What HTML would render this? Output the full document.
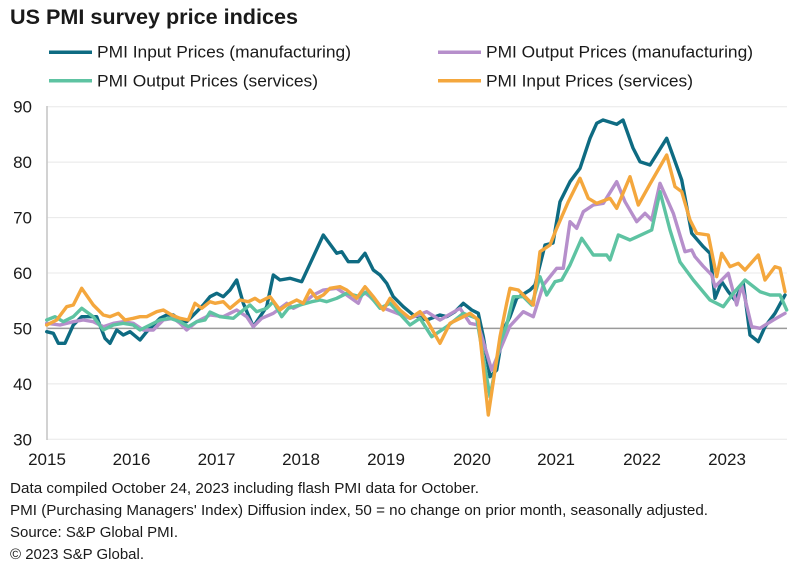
<!DOCTYPE html>
<html>
<head>
<meta charset="utf-8">
<style>
html,body{margin:0;padding:0;background:#fff;}
svg{display:block;}
text{font-family:"Liberation Sans",Arial,sans-serif;fill:#1a1a1a;}
</style>
</head>
<body>
<svg width="793" height="572" viewBox="0 0 793 572" xmlns="http://www.w3.org/2000/svg">
<rect width="793" height="572" fill="#fff"/>
<text x="10" y="24" font-size="21" font-weight="bold" textLength="288" lengthAdjust="spacingAndGlyphs" fill="#111">US PMI survey price indices</text>

<!-- legend -->
<line x1="49" y1="52.3" x2="92" y2="52.3" stroke="#0e6b82" stroke-width="3.5"/>
<text x="97" y="57.5" font-size="17" textLength="254" lengthAdjust="spacingAndGlyphs">PMI Input Prices (manufacturing)</text>
<line x1="438" y1="52.3" x2="481" y2="52.3" stroke="#b68fcb" stroke-width="3.5"/>
<text x="486" y="57.5" font-size="17" textLength="267" lengthAdjust="spacingAndGlyphs">PMI Output Prices (manufacturing)</text>
<line x1="49" y1="80.7" x2="92" y2="80.7" stroke="#5ec3a2" stroke-width="3.5"/>
<text x="97" y="86.5" font-size="17" textLength="221" lengthAdjust="spacingAndGlyphs">PMI Output Prices (services)</text>
<line x1="438" y1="80.7" x2="481" y2="80.7" stroke="#f4a73d" stroke-width="3.5"/>
<text x="486" y="86.5" font-size="17" textLength="207" lengthAdjust="spacingAndGlyphs">PMI Input Prices (services)</text>

<!-- grid -->
<g stroke="#e8e8e8" stroke-width="1">
<line x1="47" y1="106.7" x2="787" y2="106.7"/>
<line x1="47" y1="162.1" x2="787" y2="162.1"/>
<line x1="47" y1="217.6" x2="787" y2="217.6"/>
<line x1="47" y1="273.0" x2="787" y2="273.0"/>
<line x1="47" y1="383.9" x2="787" y2="383.9"/>
<line x1="47" y1="439.3" x2="787" y2="439.3"/>
</g>
<line x1="47" y1="328.4" x2="787" y2="328.4" stroke="#9a9a9a" stroke-width="1.5"/>
<line x1="47" y1="106" x2="47" y2="440" stroke="#c4c4c4" stroke-width="1.5"/>

<!-- y labels -->
<g font-size="17" text-anchor="end">
<text x="32" y="112.7">90</text>
<text x="32" y="168.1">80</text>
<text x="32" y="223.6">70</text>
<text x="32" y="279.0">60</text>
<text x="32" y="334.4">50</text>
<text x="32" y="389.9">40</text>
<text x="32" y="445.3">30</text>
</g>
<!-- x labels -->
<g font-size="17" text-anchor="middle">
<text x="47" y="465">2015</text>
<text x="131.5" y="465">2016</text>
<text x="216.5" y="465">2017</text>
<text x="301" y="465">2018</text>
<text x="386" y="465">2019</text>
<text x="472" y="465">2020</text>
<text x="556" y="465">2021</text>
<text x="642" y="465">2022</text>
<text x="727" y="465">2023</text>
</g>

<!-- series -->
<g fill="none" stroke-width="3.4" stroke-linejoin="round" stroke-linecap="round">
<polyline stroke="#0e6b82" points="46.7,331.7 53.3,333.3 58.3,343.3 65,343.3 73.3,325 81.7,316.7 90,316.7 96.7,316.7 105,338.3 110,343.3 116.7,330 123.3,335 130,331.7 140,340 146.7,331.7 153.3,325 160,318.3 166.7,315 173.3,315 180,320 186.7,321.7 196.7,311.7 203.3,305 210,296.7 216.7,293.3 223.3,296.7 230,290 236.7,280 243.3,303.3 253.3,326.7 260,316.7 266.7,306.7 273.3,275 280,280 290,278.3 301.7,281.7 313.3,256.7 323.3,235 336.7,253.3 341.7,251.7 348.3,261.7 358.3,261.7 365,253.3 373.3,270 380,275 386.7,283.3 393.3,296.7 403.3,306.7 413.3,315 426.7,320 440,315 446.7,316.7 455,311.7 463.3,303.3 471.7,310 478.3,313.3 483.3,336.7 490,376.7 496.7,370 503.3,330 510,316.7 516.7,298.3 530,290 535,285 545,245 553,243 560,201.7 570,181.7 580,168.3 590,138.3 596.7,123.3 603,120 616.7,124.3 623,120 633,148 640,161.7 650,165 666.7,138.3 681.7,180 691.7,233.3 703.3,246.7 710,253.3 715,298.3 721.7,281.7 728.3,291.7 735,300 743.3,283.3 750,335 758.3,341.7 765,326.7 775,313.3 785,295"/>
<polyline stroke="#b68fcb" points="46.7,323.3 60,325 73.3,321.7 83.3,320 93.3,321.7 103.3,326.7 113.3,323.3 123.3,321.7 133.3,323.3 143.3,330 153.3,330 163.3,320 173.3,318.3 180,323.3 186.7,330 196.7,321.7 206.7,316.7 210,315 223.3,316.7 236.7,310 246.7,316.7 253.3,326.7 261.7,318.3 273.3,313.3 286.7,303.3 293.3,308.3 303.3,303.3 313.3,295 323.3,290 336.7,288.3 346.7,295 358.3,303.3 363.3,291.7 370,296.7 380,306.7 410,318.3 426.7,311.7 440,320 460,308.3 470,323.3 478.3,325 491.7,370 500,350 510,326 523.3,311.7 533.3,316.7 543.3,285 556.7,268.3 563.3,268.3 570,221.7 576.7,228.3 583.3,211.7 593.3,205 603.3,203.3 616.7,181.7 625,201.7 636.7,221.7 645,213.3 651.7,220 660,183.3 673.3,213.3 685,251.7 691.7,250 695,256.7 703,266 711.7,275 715,286.7 728.3,273.3 736.7,305 741.7,285 751.7,326.7 760,328.3 773.3,320 785,313.3"/>
<polyline stroke="#5ec3a2" points="46.7,320 55,316.7 63.3,321.7 73.3,316.7 81.7,308.3 93.3,316.7 103.3,330 113.3,325 123.3,323.3 133.3,325 140,330 150,325 160,320 170,318.3 180,321.7 188.3,326.7 196.7,321.7 205,320 210,312 220,316.7 233.3,318.3 243.3,310 250,305 256.7,311.7 266.7,308.3 273.3,301.7 281.7,316.7 288.3,308.3 300,305 311.7,301.7 320,300 326.7,301.7 336.7,298.3 346.7,293.3 360,296.7 366.7,291.7 380,308.3 390,303.3 410,325 420,318.3 431.7,336.7 446.7,326.7 463.3,313.3 476.7,318.3 490,396.7 500,343.3 506.7,325 513.3,296.7 523.3,296.7 531.7,305 540,276.7 546.7,295 555,281.7 561.7,280 570,265 581.7,238.3 593.3,255 606.7,255 610,260 618.3,235 630,240 651.7,230 660,191.7 670,230 680,262 693.3,280 710,300 723.3,306.7 733.3,293.3 745,280 760,291.7 770,295 780,295 786.7,310"/>
<polyline stroke="#f4a73d" points="46.7,325 56.7,320 66.7,306.7 73.3,305 81.7,288.3 93.3,305 103.3,315 110,316.7 118.3,313.3 125,320 133.3,318.3 140,316.7 146.7,316.7 156.7,311.7 163.3,310 171.7,315 180,318.3 188.3,320 195,303.3 201.7,308.3 210,301.7 215,303.3 223.3,301.7 230,308.3 240,300 248.3,301.7 255,298.3 260,301.7 270,296.7 280,310 286.7,305 296.7,300 303.3,303.3 310,290 316.7,298.3 323.3,295 330,288.3 340,286.7 346.7,290 356.7,298.3 365,286.7 373.3,296.7 383.3,310 390,298.3 400,310 410,318.3 420,311.7 426.7,320 440,343.3 450,323.3 460,318.3 470,313.3 478.3,320 488.3,415 500,336.7 506.7,303.3 510,288.3 518.3,290 526.7,298.3 533.3,305 540,251.7 550,245 556.7,228.3 568.3,201.7 580,178.3 588.3,198.3 596.7,203.3 610,198.3 616.7,208.3 630,176.7 638.3,205 650,184 666.7,155 675,186.7 681.7,191.7 690,220 696.7,233.3 708.3,235 716.7,276.7 721.7,253.3 730,266.7 738.3,263.3 745,270 758.3,255 765,280 775,266.7 780,268.3 785,291.7"/>
</g>

<!-- footnotes -->
<g font-size="15">
<text x="10" y="493" textLength="469" lengthAdjust="spacingAndGlyphs">Data compiled October 24, 2023 including flash PMI data for October.</text>
<text x="10" y="515" textLength="698" lengthAdjust="spacingAndGlyphs">PMI (Purchasing Managers' Index) Diffusion index, 50 = no change on prior month, seasonally adjusted.</text>
<text x="10" y="537" textLength="168" lengthAdjust="spacingAndGlyphs">Source: S&amp;P Global PMI.</text>
<text x="10" y="559" textLength="134" lengthAdjust="spacingAndGlyphs">© 2023 S&amp;P Global.</text>
</g>
</svg>
</body>
</html>
